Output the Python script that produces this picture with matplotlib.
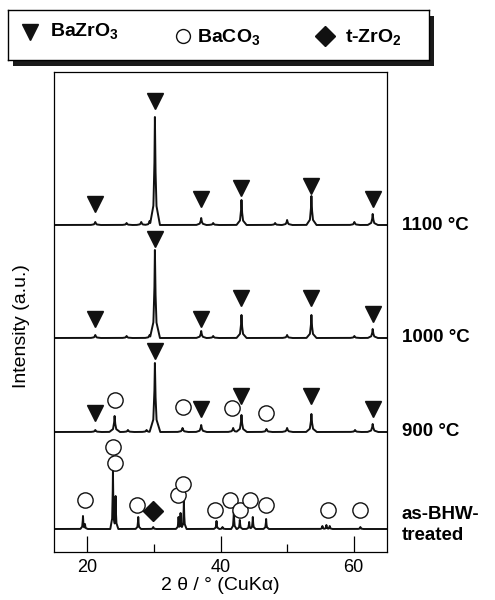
import numpy as np
import matplotlib

matplotlib.use("Agg")
import matplotlib.pyplot as plt
from matplotlib.patches import Rectangle

plt.rcParams["font.family"] = ["Liberation Sans", "DejaVu Sans"]
plt.rcParams["mathtext.fontset"] = "custom"
plt.rcParams["mathtext.rm"] = "Liberation Sans:bold"
plt.rcParams["mathtext.default"] = "rm"

# ---- data (2theta in deg, heights in a.u. above each baseline)
labels = ["1100 °C", "1000 °C", "900 °C", "as-BHW-\ntreated"]
offsets = [327, 214, 120, 23]

peaks_1100 = [21.2, 25.9, 28.1, 29.35, 30.15, 37.1, 38.9, 43.15, 48.2, 50.0, 53.65, 60.1, 62.85]
heights_1100 = [3, 2, 3, 4, 108, 7, 2, 25, 2, 5, 29, 3, 11]

peaks_1000 = [21.2, 25.9, 29.35, 30.15, 37.1, 38.9, 43.15, 50.0, 53.65, 60.1, 62.85]
heights_1000 = [3, 2, 3, 88, 7, 2, 23, 3, 23, 2, 9]

peaks_900 = [21.2, 24.1, 26.1, 28.9, 30.15, 34.3, 37.1, 41.9, 43.15, 46.9, 50.0, 53.65, 60.2, 62.85]
heights_900 = [2, 16, 2, 2, 69, 4, 7, 4, 17, 3, 4, 18, 2, 8]

peaks_bhw = [19.35, 19.65, 23.85, 24.25, 27.65, 29.9, 33.7, 34.0, 34.5, 39.4, 40.3,
             42.0, 42.9, 44.3, 44.85, 46.85, 55.3, 55.9, 56.4, 61.0]
heights_bhw = [13, 5, 58, 33, 12, 2, 12, 16, 28, 8, 2, 18, 9, 7, 12, 10, 3, 4, 3, 2]

tri_1100_pos = [21.2, 30.15, 37.1, 43.15, 53.65, 62.85]
tri_1100_h = [21, 124, 26, 37, 39, 26]
tri_1000_pos = [21.2, 30.15, 37.1, 43.15, 53.65, 62.85]
tri_1000_h = [19, 99, 19, 40, 40, 24]
tri_900_pos = [21.2, 30.15, 37.1, 43.15, 53.65, 62.85]
tri_900_h = [19, 81, 23, 36, 36, 23]
circ_900_pos = [24.2, 34.4, 41.8, 46.8]
circ_900_h = [32, 25, 24, 19]
circ_bhw_pos = [19.6, 23.8, 24.2, 27.4, 33.6, 34.4, 39.1, 41.5, 42.9, 44.5, 46.8, 56.2, 61.0]
circ_bhw_h = [29, 82, 66, 24, 34, 45, 19, 29, 19, 29, 24, 19, 19]
dia_bhw_pos = [29.9]
dia_bhw_h = [18]

traces = [
    (peaks_1100, heights_1100, 0.75),
    (peaks_1000, heights_1000, 0.75),
    (peaks_900, heights_900, 0.8),
    (peaks_bhw, heights_bhw, 0.4),
]
tri_sets = [(tri_1100_pos, tri_1100_h, 327), (tri_1000_pos, tri_1000_h, 214),
            (tri_900_pos, tri_900_h, 120)]
circ_sets = [(circ_900_pos, circ_900_h, 120), (circ_bhw_pos, circ_bhw_h, 23)]


def profile(pos, hts, w):
    # piecewise-linear sharp peak shape on top of a flat baseline
    x = np.arange(15, 65.001, 0.01)
    y = np.zeros_like(x)
    for p, h in zip(pos, hts):
        d = np.abs(x - p) / w
        y = np.maximum(y, h * np.interp(d, [0, 0.1, 0.3, 1.0], [1, 0.55, 0.18, 0]))
    return x, y


fig = plt.figure(figsize=(4.95, 6.0), dpi=100)
W, H = 495, 600
ax = fig.add_axes([54 / W, 48 / H, 333 / W, 480 / H])

for (pos, hts, w), off in zip(traces, offsets):
    x, y = profile(pos, hts, w)
    ax.plot(x, y + off, color="#111111", lw=1.4, zorder=2)

for pos, hts, off in tri_sets:
    ax.plot(pos, np.array(hts) + off, "v", color="#111111", ms=12, zorder=3)
for pos, hts, off in circ_sets:
    ax.plot(pos, np.array(hts) + off, "o", mfc="white", mec="#111111", mew=1.0, ms=11, zorder=3)
ax.plot(dia_bhw_pos, np.array(dia_bhw_h) + 23, "D", color="#111111", ms=10, zorder=3)

for lab, off in zip(labels, offsets):
    yy = off + 4 if "\n" in lab else off
    ax.text(1.045, yy, lab, transform=ax.get_yaxis_transform(), fontsize=13.5,
            fontweight="bold", va="center", ha="left", linespacing=1.3)

ax.set_xlim(15, 65)
ax.set_ylim(0, 480)
ax.set_xticks([20, 40, 60])
ax.set_xticks([30, 50], minor=True)
ax.set_yticks([])
ax.tick_params(axis="x", which="major", direction="in", length=11.5, width=0.9,
               labelsize=13, pad=5)
ax.tick_params(axis="x", which="minor", direction="in", length=5.8, width=0.9)
for s in ax.spines.values():
    s.set_linewidth(0.9)
ax.set_xlabel("2 θ / ° (CuKα)", fontsize=14, labelpad=1)
fig.text(22 / W, 1 - 326 / H, "Intensity (a.u.)", rotation=90, fontsize=14,
         ha="center", va="center")

# legend box with drop shadow
bx, by, bw, bh = 8, 10, 421, 50
fig.add_artist(Rectangle(((bx + 5) / W, 1 - (by + bh + 6) / H), bw / W, bh / H,
                         transform=fig.transFigure, facecolor="#1a1a1a", edgecolor="none", zorder=1))
lg = fig.add_axes([bx / W, 1 - (by + bh) / H, bw / W, bh / H], zorder=2)
lg.set_xlim(0, bw)
lg.set_ylim(0, bh)
lg.set_xticks([])
lg.set_yticks([])
for s in lg.spines.values():
    s.set_linewidth(1.0)
lg.plot([22], [28], "v", color="#111111", ms=12)
lg.text(42, 29, r"BaZrO$_3$", fontsize=14, fontweight="bold", va="center")
lg.plot([175], [24], "o", mfc="white", mec="#111111", mew=1.0, ms=10)
lg.text(189, 23, r"BaCO$_3$", fontsize=14, fontweight="bold", va="center")
lg.plot([317], [24], "D", color="#111111", ms=10)
lg.text(337, 23, r"t-ZrO$_2$", fontsize=14, fontweight="bold", va="center")

fig.savefig("out.png", dpi=100)
